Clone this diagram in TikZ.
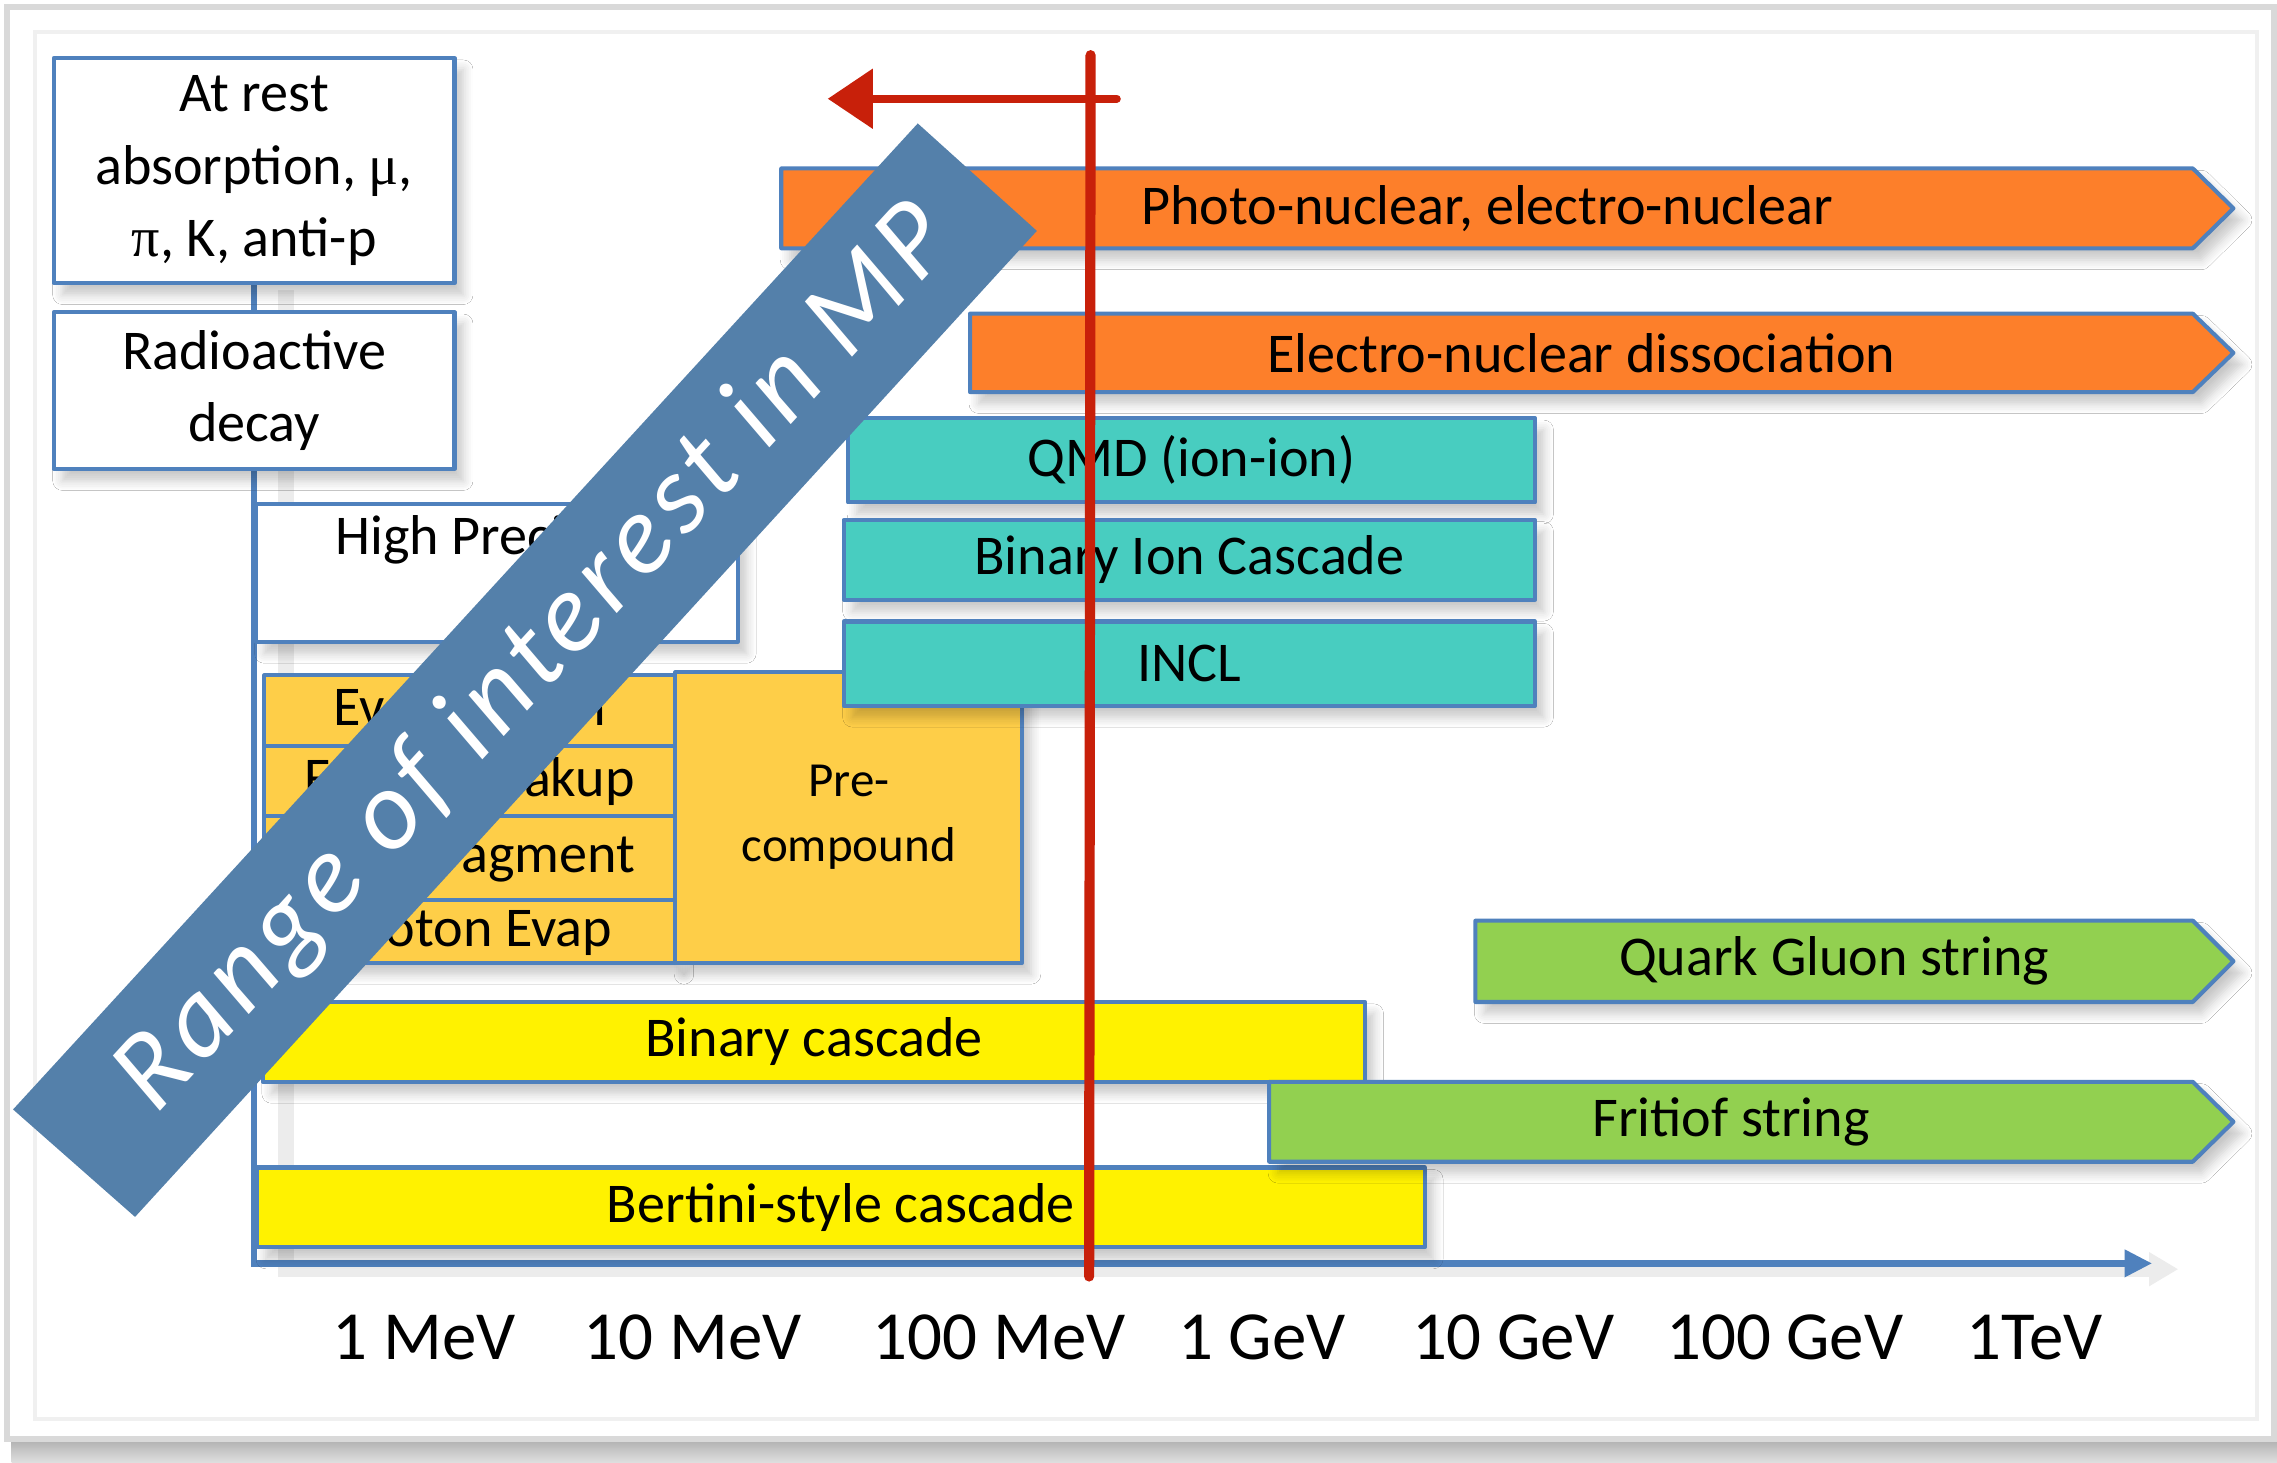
\documentclass[tikz,border=0pt]{standalone}
\usepackage{fontspec}
\setmainfont{Carlito}
\newfontfamily\grk{Liberation Serif}
\newfontfamily\chalk[LetterSpace=6]{Carlito}
\usetikzlibrary{arrows.meta,backgrounds,shadows.blur}
\definecolor{edgeblue}{HTML}{4F81BD}
\definecolor{orangebar}{HTML}{FD7F2A}
\definecolor{tealbar}{HTML}{48CDC0}
\definecolor{goldbar}{HTML}{FECE48}
\definecolor{greenbar}{HTML}{92D050}
\definecolor{rangeblue}{HTML}{5480AA}
\definecolor{markred}{HTML}{C8200A}
\newcommand{\fsz}[2]{\fontsize{#1}{#2}\selectfont}
\begin{document}
\begin{tikzpicture}[x=0.1mm,y=-0.1mm,line join=round,font=\fsz{11}{14.2},
	box/.style={draw=edgeblue,line width=0.8pt,inner sep=0pt,align=center,
		blur shadow={shadow xshift=0.6mm,shadow yshift=-0.8mm,shadow opacity=22,shadow blur steps=6}},
	span/.style n args={4}{minimum width={(#3-#1)*0.1mm},minimum height={(#4-#2)*0.1mm}},
	lbl/.style={inner sep=0pt},
	axis/.style={draw=edgeblue,line width=1.3pt},
	axlbl/.style={font=\fsz{13.5}{16}},
	redmark/.style={draw=markred,line width=2pt,line cap=round},
	rangetxt/.style={text=white,font=\chalk\fsz{22}{22}\itshape,rotate=47.46}]
	\useasboundingbox (0,0) rectangle (1568,1007);
	\path (175,870) coordinate (orig) (1482,870) coordinate (axend)
		(751,38) coordinate (cutT) (750,879) coordinate (cutB)
		(769,68) coordinate (arrS) (570,68) coordinate (arrE)
		(9,764) coordinate (bandL) (632,85) coordinate (bandT)
		(714,159) coordinate (bandR) (93,838) coordinate (bandB);
	% white boxes
	\foreach \n/\xa/\ya/\xb/\yb/\t in {rest/37/40/313/195/{At rest\\absorption, {\grk μ},\\{\grk π}, K, anti-p},
		decay/37/215/313/323/{Radioactive\\decay},hp/176/347/508/442/{}}
		{\node[box,fill=white,span={\xa}{\ya}{\xb}{\yb}] (\n) at ({(\xa+\xb)/2},{(\ya+\yb)/2}) {\t};}
	\node[lbl] (hplbl) at (342,372) {High Precision};
	% de-excitation
	\foreach \n/\xa/\ya/\xb/\yb/\t in {evap/182/465/465/514/Evaporation,fermi/182/514/465/562/{Fermi breakup},
		multi/182/562/465/620/Multifragment,phev/182/620/465/663/{Photon Evap}}
		{\node[box,fill=goldbar,span={\xa}{\ya}{\xb}{\yb}] (\n) at ({(\xa+\xb)/2},{(\ya+\yb)/2}) {\t};}
	\node[box,fill=goldbar,span={465}{463}{704}{663},font=\fsz{9.6}{12.8}] (precomp) at (584.5,563) {Pre-\\compound};
	\foreach \n/\xa/\ya/\xb/\yb/\t in {binc/181/690/940/745/{Binary cascade},bert/177/804/981/859/{Bertini-style cascade}}
		{\node[box,fill=yellow,span={\xa}{\ya}{\xb}{\yb}] (\n) at ({(\xa+\xb)/2},{(\ya+\yb)/2}) {\t};}
	\foreach \n/\xa/\ya/\xb/\yb/\t in {qmd/584/288/1057/346/{QMD (ion-ion)},bic/581/358/1057/413/{Binary Ion Cascade},
		incl/581/428/1057/486/INCL}
		{\node[box,fill=tealbar,span={\xa}{\ya}{\xb}{\yb}] (\n) at ({(\xa+\xb)/2},{(\ya+\yb)/2}) {\t};}
	% open-ended bars
	\foreach \n/\xa/\ya/\yb/\c/\t in {photo/538/116/171/orangebar/{Photo-nuclear, electro-nuclear},
		endis/668/216/270/orangebar/{Electro-nuclear dissociation},
		qgs/1016/634/690/greenbar/{Quark Gluon string},ftf/874/745/800/greenbar/{Fritiof string}}
		{\draw[box,fill=\c] (\xa,\ya) -- (1510,\ya) -- (1538,{(\ya+\yb)/2}) -- (1510,\yb) -- (\xa,\yb) -- cycle;
		\node[lbl] (\n) at ({(\xa+1510)/2},{(\ya+\yb)/2}) {\t};}
	\foreach \x/\t [count=\i] in {292/1 MeV,477/10 MeV,688/100 MeV,869/1 GeV,1042/10 GeV,1229/100 GeV,1401/1TeV}
		{\node[axlbl] (e\i) at (\x,921) {\t};}
	\begin{scope}[on background layer]
		\shade[top color=gray!65,bottom color=gray!25] (8,990) rectangle (1568,1007);
		\draw[gray!30,fill=white,line width=0.4mm] (5,5) rectangle (1566,991);
		\draw[gray!12,line width=0.3mm] (24,22) rectangle (1554,977);
		\draw[gray!15,line width=1.1mm,-{Triangle[length=2mm,width=2.2mm]}] (197,200) -- (197,874) -- (1500,874);
		\draw[axis] (rest) -- (decay);
		\draw[axis,-{Triangle[length=1.9mm,width=1.8mm]}] (decay) -- (orig) -- (axend);
	\end{scope}
	\fill[rangeblue] (bandL) -- (bandT) -- (bandR) -- (bandB) -- cycle;
	\node[rangetxt] (range) at (369,454) {Range of interest in MP};
	\draw[redmark] (cutT) -- (cutB);
	\draw[redmark,line width=1.6pt,-{Triangle[length=3.1mm,width=4mm]}] (arrS) -- (arrE);
\end{tikzpicture}
\end{document}
